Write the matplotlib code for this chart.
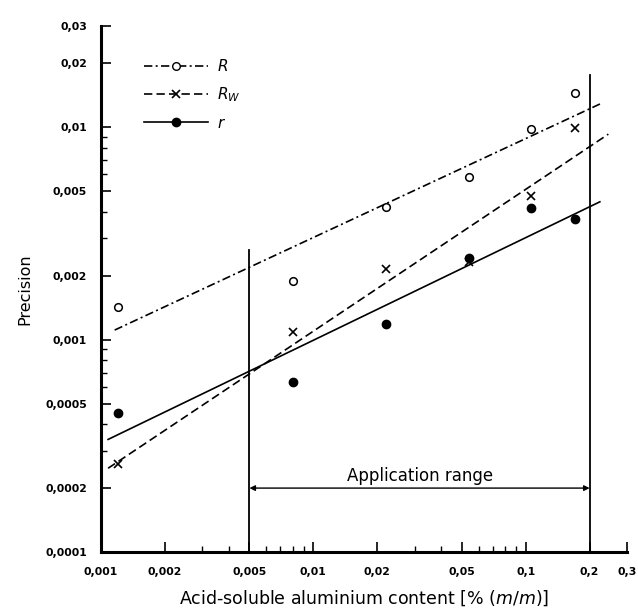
import matplotlib
matplotlib.use("Agg")
import matplotlib.pyplot as plt
from matplotlib.ticker import FixedLocator, LogLocator, NullFormatter, FixedFormatter

# measured points (content in %, precision)
content = [0.0012, 0.008, 0.022, 0.054, 0.106, 0.17]
R_vals = [0.00143, 0.00188, 0.00423, 0.00586, 0.00983, 0.0145]
RW_vals = [0.00026, 0.00109, 0.00215, 0.00232, 0.00475, 0.0099]
r_vals = [0.00045, 0.00063, 0.00119, 0.00242, 0.00416, 0.00369]

# regression lines, end points
R_fit_x = [0.00116, 0.228]
R_fit_y = [0.00111, 0.0130]
RW_fit_x = [0.00108, 0.245]
RW_fit_y = [0.000248, 0.00929]
r_fit_x = [0.00108, 0.2235]
r_fit_y = [0.000339, 0.00446]

range_lo, range_hi = 0.005, 0.2

x_ticks = [0.001, 0.002, 0.005, 0.01, 0.02, 0.05, 0.1, 0.2, 0.3]
y_ticks = [0.0001, 0.0002, 0.0005, 0.001, 0.002, 0.005, 0.01, 0.02, 0.03]


def comma(v):
    return ("%g" % v).replace(".", ",")


tick_font = dict(family="DejaVu Sans", weight="bold", size=7.8)

fig = plt.figure(figsize=(6.38, 6.13), dpi=100)
ax = fig.add_axes([0.1583, 0.0995, 0.8245, 0.858])
ax.set_xscale("log")
ax.set_yscale("log")
ax.set_xlim(0.001, 0.3)
ax.set_ylim(0.0001, 0.03)

dashdot = (0, (5, 2, 1.2, 2))
dashed = (0, (5, 2.5))

ax.plot(R_fit_x, R_fit_y, color="black", lw=1.2, linestyle=dashdot)
ax.plot(RW_fit_x, RW_fit_y, color="black", lw=1.2, linestyle=dashed)
ax.plot(r_fit_x, r_fit_y, color="black", lw=1.2, linestyle="-")

ax.plot(content, R_vals, "o", mfc="white", mec="black", mew=1.1, ms=5.5, linestyle="none")
ax.plot(content, RW_vals, "x", color="black", mew=1.2, ms=5.5, linestyle="none")
ax.plot(content, r_vals, "o", color="black", ms=6, linestyle="none")

# application range
ax.plot([range_lo, range_lo], [0.0001, 0.00264], color="black", lw=1.3)
ax.plot([range_hi, range_hi], [0.0001, 0.0176], color="black", lw=1.3)
ax.annotate("", xy=(range_lo, 0.0002), xytext=(range_hi, 0.0002),
            arrowprops=dict(arrowstyle="<|-|>", color="black", lw=1.0,
                            shrinkA=0, shrinkB=0, mutation_scale=8))
ax.text(0.0318, 0.000228, "Application range", ha="center", va="center",
        fontsize=12, family="DejaVu Sans")

# legend
h_R, = ax.plot([], [], color="black", lw=1.2, linestyle=dashdot, marker="o",
               mfc="white", mec="black", ms=5.5)
h_RW, = ax.plot([], [], color="black", lw=1.2, linestyle=dashed, marker="x",
                mew=1.2, ms=5.5)
h_r, = ax.plot([], [], color="black", lw=1.2, linestyle="-", marker="o", ms=6)
ax.legend([h_R, h_RW, h_r], ["$R$", "$R_W$", "$r$"], loc="upper left",
          bbox_to_anchor=(0.055, 0.965), frameon=False, numpoints=1,
          handlelength=4.2, labelspacing=0.75, fontsize=11, handletextpad=0.6)

# axes styling
for side in ["top", "right"]:
    ax.spines[side].set_visible(False)
ax.spines["left"].set_linewidth(2.2)
ax.spines["bottom"].set_linewidth(2.2)

ax.xaxis.set_major_locator(FixedLocator(x_ticks))
ax.xaxis.set_major_formatter(FixedFormatter([comma(v) for v in x_ticks]))
ax.yaxis.set_major_locator(FixedLocator(y_ticks))
ax.yaxis.set_major_formatter(FixedFormatter([comma(v) for v in y_ticks]))
ax.xaxis.set_minor_locator(LogLocator(base=10, subs=(3, 4, 6, 7, 8, 9)))
ax.yaxis.set_minor_locator(LogLocator(base=10, subs=(3, 4, 6, 7, 8, 9)))
ax.xaxis.set_minor_formatter(NullFormatter())
ax.yaxis.set_minor_formatter(NullFormatter())

ax.tick_params(which="major", direction="in", length=7, width=1.2)
ax.tick_params(which="minor", direction="in", length=4, width=1.0)
ax.tick_params(axis="x", which="major", pad=11)
ax.tick_params(axis="y", which="major", pad=10)
for lab in ax.get_xticklabels() + ax.get_yticklabels():
    lab.set_fontproperties(tick_font)

ax.set_xlabel("Acid-soluble aluminium content [% ($m$/$m$)]", fontsize=12.5,
              family="DejaVu Sans")
ax.xaxis.set_label_coords(0.5, -0.07)
ax.set_ylabel("Precision", fontsize=11.5, family="DejaVu Sans")
ax.yaxis.set_label_coords(-0.131, 0.5)

fig.savefig("out.png", dpi=100)
